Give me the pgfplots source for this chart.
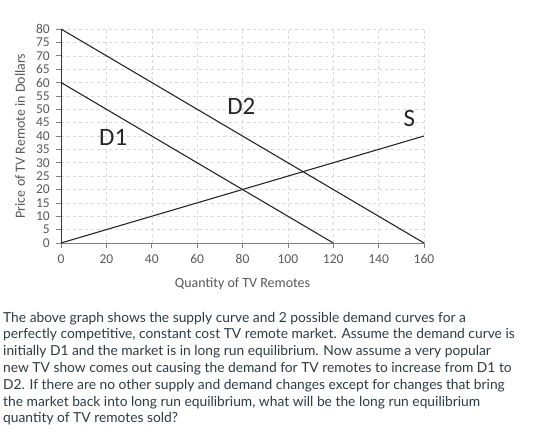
\documentclass[border=0pt]{standalone}
\usepackage{pgfplots}
\pgfplotsset{compat=1.18}
\usepackage{fontspec}
\setmainfont{Lato}
\newfontfamily\carlito{Carlito}
\definecolor{txt}{HTML}{2D3B45}
\definecolor{lbl}{HTML}{595959}
\definecolor{gridc}{HTML}{D9D9D9}
\begin{document}
\begin{tikzpicture}[x=1pt,y=1pt]
\useasboundingbox (0,0) rectangle (560,436);
\begin{axis}[
  at={(61pt,193pt)}, anchor=south west,
  scale only axis, width=363pt, height=214pt,
  xmin=0, xmax=160, ymin=0, ymax=80,
  xtick={0,20,...,160}, ytick={0,5,...,80},
  axis x line*=bottom, axis y line*=left,
  x axis line style={draw=gray, -},
  y axis line style={draw=black!80, -},
  tick style={draw=gray, line width=0.6pt},
  tick align=outside, major tick length=5pt,
  grid=major, major grid style={gridc, dashed, line width=0.5pt},
  ticklabel style={font=\carlito\fontsize{13.5}{13.5}\selectfont, text=lbl},
  xticklabel style={text height=8.5pt, text depth=0pt, inner sep=0pt, yshift=-7pt},
  yticklabel style={inner sep=0pt, xshift=-6pt},
  /pgf/number format/assume math mode=true,
  xlabel={Quantity of TV Remotes},
  ylabel={Price of TV Remote in Dollars},
  label style={font=\carlito\fontsize{14}{14}\selectfont, text=lbl},
  xlabel style={at={(axis description cs:0.5,-0.1916)}, anchor=center},
  ylabel style={at={(axis description cs:-0.113,0.5)}, anchor=center},
  clip=false,
]
\addplot[black!85, line width=1.1pt] coordinates {(0,60) (120,0)};
\addplot[black!85, line width=1.1pt] coordinates {(0,80) (160,0)};
\addplot[black!85, line width=1.1pt] coordinates {(0,0) (160,40)};
\node[font=\carlito\fontsize{25}{25}\selectfont, text=black!85] at (axis cs:23,39.5) {D1};
\node[font=\carlito\fontsize{25}{25}\selectfont, text=black!85] at (axis cs:79.5,51) {D2};
\node[font=\carlito\fontsize{25}{25}\selectfont, text=black!85] at (axis cs:153.5,46.5) {S};
\end{axis}
\node[anchor=base west, align=left, text=txt, font=\fontsize{13.8}{16.8}\selectfont, inner sep=0pt] at (3,13) {The above graph shows the supply curve and 2 possible demand curves for a\\
perfectly competitive, constant cost TV remote market. Assume the demand curve is\\
initially D1 and the market is in long run equilibrium. Now assume a very popular\\
new TV show comes out causing the demand for TV remotes to increase from D1 to\\
D2. If there are no other supply and demand changes except for changes that bring\\
the market back into long run equilibrium, what will be the long run equilibrium\\
quantity of TV remotes sold?};
\end{tikzpicture}
\end{document}
